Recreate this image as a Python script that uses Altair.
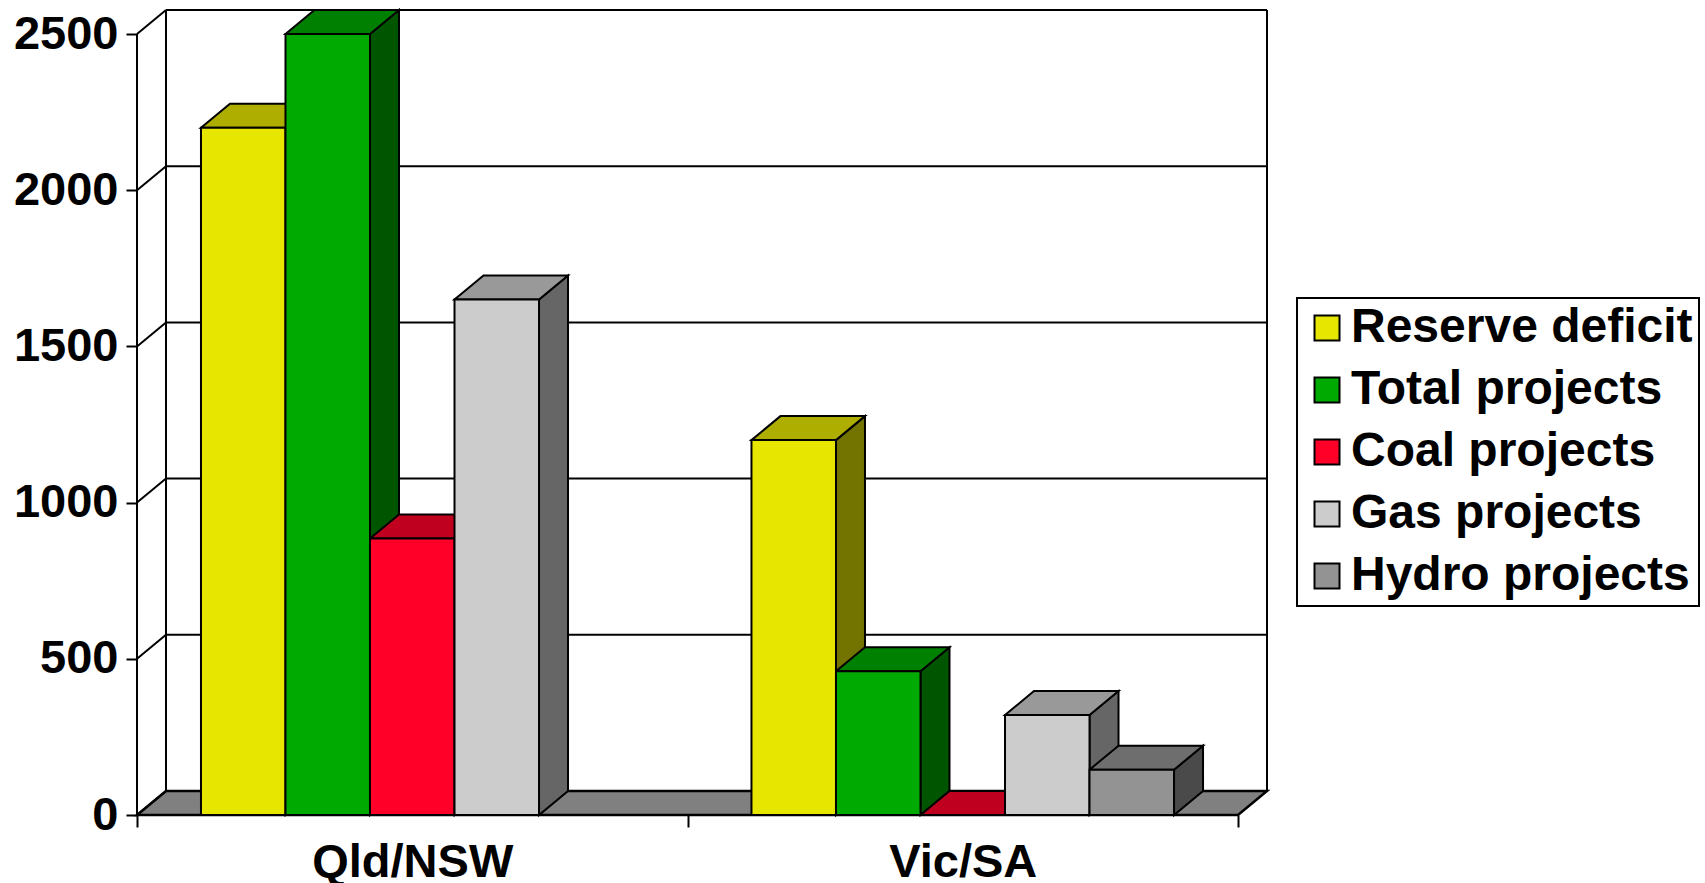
import altair as alt
import pandas as pd

# ---- data -------------------------------------------------------------
REGIONS = ["Qld/NSW", "Vic/SA"]
SERIES = ["Reserve deficit", "Total projects", "Coal projects", "Gas projects", "Hydro projects"]
QLD_NSW = [2200, 2500, 885, 1650, None]   # no hydro entry for Qld/NSW
VIC_SA = [1200, 460, 0, 320, 145]
Y_TICKS = [0, 500, 1000, 1500, 2000, 2500]

# ---- styling ----------------------------------------------------------
FRONT = ["#E6E600", "#00AA00", "#FF0028", "#CCCCCC", "#939393"]
TOP = ["#AEAE00", "#008000", "#BF001E", "#999999", "#6E6E6E"]
SIDE = ["#737300", "#005500", "#80001A", "#666666", "#4A4A4A"]
FLOOR = "#808080"
FONT = "Liberation Sans"

W, H = 1130, 805                 # plot area in pixels
DEPTH_X_PX, DEPTH_Y_PX = 29, 24  # oblique depth of the 3-D box
Y_MAX = 2500
GROUP_PAD = 0.757                # outer padding of a group, in bar widths

n_groups = len(REGIONS)
DX = DEPTH_X_PX * n_groups / (W - DEPTH_X_PX)   # depth in x data units
DY = DEPTH_Y_PX * Y_MAX / (H - DEPTH_Y_PX)      # depth in y data units
BW = 1 / (len(SERIES) + 2 * GROUP_PAD)          # bar width in x data units

values = dict(zip(REGIONS, [QLD_NSW, VIC_SA]))


def top_face(x0, x1, v):
    """Parallelogram on top of a box, as area vertices (x, upper, lower)."""
    return [(x0, v, v), (x0 + DX, v + DY, v), (x1, v + DY, v), (x1 + DX, v + DY, v + DY)]


fronts, tops, sides = [], [], []
for gi, region in enumerate(REGIONS):
    for si, s in enumerate(SERIES):
        v = values[region][si]
        if v is None:
            continue
        x0 = gi + (GROUP_PAD + si) * BW
        x1 = x0 + BW
        key = f"{gi:02d}{si:02d}"
        fronts.append(dict(series=s, x=x0, x2=x1, y=0, y2=v))
        for xx, yy, yy2 in top_face(x0, x1, v):
            tops.append(dict(face=key, fill=TOP[si], x=xx, y=yy, y2=yy2))
        for xx, yy, yy2 in [(x1, v, 0), (x1 + DX, v + DY, DY)]:
            sides.append(dict(face=key, fill=SIDE[si], x=xx, y=yy, y2=yy2))

floor = pd.DataFrame([dict(x=a, y=b, y2=c) for a, b, c in top_face(0, n_groups, 0)])

# walls: back gridlines, left-wall diagonals and vertical edges
segs = []
for t in Y_TICKS:
    segs.append(dict(x=DX, y=t + DY, x2=n_groups + DX, y2=t + DY))
    segs.append(dict(x=0, y=t, x2=DX, y2=t + DY))
segs.append(dict(x=0, y=0, x2=0, y2=Y_MAX))
segs.append(dict(x=DX, y=DY, x2=DX, y2=Y_MAX + DY))
segs.append(dict(x=n_groups + DX, y=DY, x2=n_groups + DX, y2=Y_MAX + DY))
segs.append(dict(x=0, y=0, x2=n_groups, y2=0))

# ---- scales & axes ----------------------------------------------------
label_expr = " : ".join(
    f"datum.value == {gi + 0.5} ? '{r}'" for gi, r in enumerate(REGIONS)
) + " : ''"

x_axis = alt.Axis(
    values=[k * 0.5 for k in range(2 * n_groups + 1)],
    labelExpr=label_expr,
    tickOpacity={"condition": {"test": "datum.value % 1 == 0", "value": 1}, "value": 0},
    tickSize=12, tickWidth=2, tickColor="black",
    domain=False, grid=False, title=None,
    labelFont=FONT, labelFontSize=47, labelFontWeight="bold", labelColor="black",
    labelPadding=12, labelFlush=False, labelOverlap=False, labelLimit=600,
)
y_axis = alt.Axis(
    values=Y_TICKS, format="d",
    tickSize=11, tickWidth=2, tickColor="black",
    domain=False, grid=False, title=None,
    labelFont=FONT, labelFontSize=47, labelFontWeight="bold", labelColor="black",
    labelPadding=8, labelFlush=False, labelOverlap=False,
)
x_scale = alt.Scale(domain=[0, n_groups + DX], nice=False, zero=False)
y_scale = alt.Scale(domain=[0, Y_MAX + DY], nice=False, zero=False)


def X():
    return alt.X("x:Q", scale=x_scale, axis=x_axis)


def Y():
    return alt.Y("y:Q", scale=y_scale, axis=y_axis, stack=None)


floor_layer = alt.Chart(floor).mark_area(
    fill=FLOOR, stroke="black", strokeWidth=2.5
).encode(x=X(), y=Y(), y2="y2:Q")

wall_layer = alt.Chart(pd.DataFrame(segs)).mark_rule(
    color="black", strokeWidth=2
).encode(x=X(), y=Y(), x2="x2:Q", y2="y2:Q")

side_layer = alt.Chart(pd.DataFrame(sides)).mark_area(
    stroke="black", strokeWidth=2, opacity=1
).encode(
    x=X(), y=Y(), y2="y2:Q",
    color=alt.Color("fill:N", scale=None),
    detail="face:N",
)

top_layer = alt.Chart(pd.DataFrame(tops)).mark_area(
    stroke="black", strokeWidth=2, opacity=1
).encode(
    x=X(), y=Y(), y2="y2:Q",
    color=alt.Color("fill:N", scale=None),
    detail="face:N",
)

front_layer = alt.Chart(pd.DataFrame(fronts)).mark_rect(
    stroke="black", strokeWidth=2
).encode(
    x=X(), x2="x2:Q", y=Y(), y2="y2:Q",
    color=alt.Color(
        "series:N",
        scale=alt.Scale(domain=SERIES, range=FRONT),
        legend=alt.Legend(
            orient="none", legendX=1160, legendY=288, title=None,
            symbolType="square", symbolSize=625,
            symbolStrokeColor="black", symbolStrokeWidth=2,
            labelFont=FONT, labelFontSize=48, labelFontWeight="bold",
            labelColor="black", labelLimit=600, labelOffset=0,
            rowPadding=14, padding=6, strokeColor="black",
        ),
    ),
)

chart = alt.layer(
    floor_layer, wall_layer, side_layer, top_layer, front_layer
).properties(
    width=W, height=H,
    padding={"left": 137, "top": 10, "right": 1705 - 137 - W, "bottom": 883 - 10 - H},
    autosize=alt.AutoSizeParams(type="none"),
    background="white",
).configure_view(stroke=None).configure_legend(strokeWidth=2)

chart.save("out.html", embed_options={"renderer": "svg", "actions": False})
